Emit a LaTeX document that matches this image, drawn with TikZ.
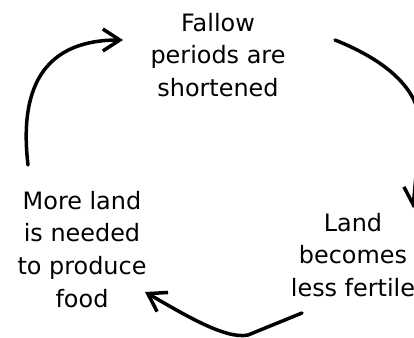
\documentclass[tikz,border=0pt]{standalone}
\usepackage{fontspec}
\setmainfont{DejaVu Sans}
\usetikzlibrary{arrows.meta}
\begin{document}
\begin{tikzpicture}[x=1bp,y=-1bp,
  lbl/.style={align=center,inner sep=0pt,font=\fontsize{24}{33}\selectfont},
  cyc/.style={line width=3.5bp,line cap=round,line join=round,-{Straight Barb[length=17bp,width=22bp,line width=3.5bp]}}]
\useasboundingbox (0,0) rectangle (414,338);
\clip (0,0) rectangle (414,338);
\node[lbl] (fallow) at (218,55) {Fallow\\periods are\\shortened};
\node[lbl] (more) at (82,249.5) {More land\\is needed\\to produce\\food};
\node[lbl] (land) at (353,255) {Land\\becomes\\less fertile};
\coordinate (a1s) at (28,165);
\coordinate (a1e) at (123,40);
\coordinate (a2s) at (335,40);
\coordinate (a2e) at (413,208);
\coordinate (a3s) at (302,313);
\coordinate (a3m) at (248,335);
\coordinate (a3e) at (145,292);
\draw[cyc] (a1s) .. controls (18,80) and (50,40) .. (a1e);
\draw[cyc] (a2s) .. controls (390,62) and (421,92) .. (420,128) -- (417,165) -- (a2e);
\draw[cyc] (a3s) -- (a3m) .. controls (225,340) and (180,312) .. (a3e);
\end{tikzpicture}
\end{document}
